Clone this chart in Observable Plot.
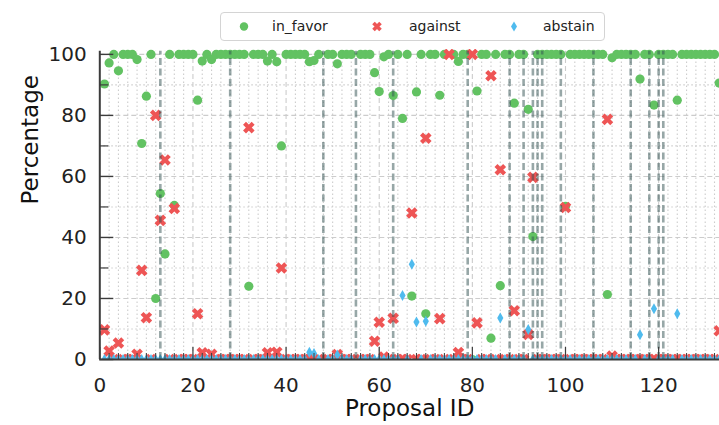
<!DOCTYPE html>
<html><head><meta charset="utf-8">
<script src="https://cdn.jsdelivr.net/npm/d3@7"></script>
<script src="https://cdn.jsdelivr.net/npm/@observablehq/plot@0.6"></script>
<style>
body{margin:0;background:#fff;font-family:"DejaVu Sans",sans-serif;}
#wrap{position:relative;width:719px;height:425px;overflow:hidden;}
#legend{position:absolute;left:220px;top:12px;width:385px;height:29px;border:1px solid #d4d4d4;border-radius:4px;background:#fff;box-sizing:border-box;font-size:14px;color:#222;}
#legend .item{position:absolute;top:0;height:27px;line-height:27px;white-space:nowrap;}
#legend svg{position:absolute;top:0;}
</style></head><body><div id="wrap"><div id="chart"></div><div id="legend"></div></div>
<script>
// Proposal IDs
const proposalIds = [
  1,2,3,4,5,6,7,8,9,10,11,12,13,14,15,16,17,18,19,20,
  21,22,23,24,25,26,27,28,29,30,31,32,33,34,35,36,37,38,39,40,
  41,42,43,44,45,46,47,48,49,50,51,52,53,54,55,56,57,58,59,60,
  61,62,63,64,65,66,67,68,69,70,71,72,73,74,75,76,77,78,79,80,
  81,82,83,84,85,86,87,88,89,90,91,92,93,94,95,96,97,98,99,100,
  101,102,103,104,105,106,107,108,109,110,111,112,113,114,115,116,117,118,119,120,
  121,122,123,124,125,126,127,128,129,130,131,132,133
];
// Percentage of votes per proposal
const inFavor = [
  90.3,97.2,100,94.6,100,100,100,98.3,70.8,86.3,
  100,20,54.4,34.6,100,50.5,100,100,100,100,
  85,97.8,100,98.3,100,100,100,100,100,100,
  100,24,100,100,100,97.8,100,97.6,70,100,
  100,100,100,100,97.6,98,100,null,100,100,
  96.9,100,100,100,null,100,100,100,94,87.8,
  99.2,100,86.5,100,79,100,20.8,87.7,100,15,
  100,100,86.6,100,0,100,97.7,100,100,0,
  88,100,100,7,100,24.2,100,100,84,100,
  100,82,40.3,100,100,100,100,100,100,50.2,
  100,100,100,100,100,100,100,100,21.3,98.9,
  100,100,100,100,100,91.9,100,100,83.4,100,
  100,100,100,85,100,100,100,100,100,100,
  100,100,90.6
];
const against = [
  9.7,2.8,0,5.4,0,0,0,1.7,29.2,13.7,
  0,80,45.6,65.4,0,49.5,0,0,0,0,
  15,2.2,0,1.7,0,0,0,0,0,0,
  0,76,0,0,0,2.2,0,2.4,30,0,
  0,0,0,0,0,0,0,null,0,0,
  1.6,0,0,0,null,0,0,0,6,12.2,
  0.8,0,13.5,0,0,0,48,0,0,72.5,
  0,0,13.4,0,100,0,2.3,0,0,100,
  12,0,0,93,0,62.2,0,0,16,0,
  0,8.2,59.7,0,0,0,0,0,0,49.8,
  0,0,0,0,0,0,0,0,78.7,1.1,
  0,0,0,0,0,0,0,0,0,0,
  0,0,0,0,0,0,0,0,0,0,
  0,0,9.4
];
const abstain = [
  0,0,0,0,0,0,0,0,0,0,
  0,0,0,0,0,0,0,0,0,0,
  0,0,0,0,0,0,0,0,0,0,
  0,0,0,0,0,0,0,0,0,0,
  0,0,0,0,2.4,2,0,null,0,0,
  1.5,0,0,0,null,0,0,0,0,0,
  0,0,0,0,21,0,31.2,12.3,0,12.5,
  0,0,0,0,0,0,0,0,0,0,
  0,0,0,0,0,13.6,0,0,0,0,
  0,9.8,0,0,0,0,0,0,0,0,
  0,0,0,0,0,0,0,0,0,0,
  0,0,0,0,0,8.1,0,0,16.6,0,
  0,0,0,15,0,0,0,0,0,0,
  0,0,0
];
// Proposals marked with dashed vertical lines
const failedIds = [13,28,48,55,63,79,88,91,93,94,95,99,106,114,118,120,121];
// Axis ticks
const xTicks = [0,20,40,60,80,100,120];
const yTicks = [0,20,40,60,80,100];
const xMinorTicks = [2,4,6,8,10,12,14,16,18,22,24,26,28,30,32,34,36,38,42,44,46,48,50,52,54,56,58,62,64,66,68,70,72,74,76,78,82,84,86,88,90,92,94,96,98,102,104,106,108,110,112,114,116,118,122,124,126,128,130,132];
const yMinorTicks = [10,30,50,70,90];
const seriesNames = ["in_favor","against","abstain"];

const GREEN = "#62c262", RED = "#ee5555", BLUE = "#4fbbee";
const X_MAX = 133.07, Y_MAX = 101.6, Y_TOP = 101;

const rows = proposalIds.map((id, i) => ({id, inFavor: inFavor[i], against: against[i], abstain: abstain[i]}));

const thinDiamond = {
  draw(ctx, size) {
    const r = Math.sqrt(size / Math.PI);
    ctx.moveTo(0, -r * 1.25);
    ctx.lineTo(r * 0.7, 0);
    ctx.lineTo(0, r * 1.25);
    ctx.lineTo(-r * 0.7, 0);
    ctx.closePath();
  }
};

const frameW = 719 - 99.3, frameH = 425 - 49 - 66;
const gridC = "#cccccc", axisC = "#3c3c3c";

const chart = Plot.plot({
  width: 719, height: 425,
  marginLeft: 99.3, marginRight: 0, marginTop: 49, marginBottom: 66,
  x: {domain: [0, X_MAX]},
  y: {domain: [0, Y_MAX]},
  style: {fontFamily: "'DejaVu Sans', sans-serif", color: "#222", background: "white", overflow: "hidden"},
  marks: [
    Plot.ruleY(yMinorTicks, {y: d => d, x1: 0, x2: X_MAX, stroke: gridC, strokeWidth: 1.1, strokeDasharray: "1.5,2.5"}),
    Plot.ruleY(yTicks.filter(d => d > 0), {y: d => d, x1: 0, x2: X_MAX, stroke: gridC, strokeWidth: 1.1, strokeDasharray: "5,3"}),
    Plot.ruleX(xMinorTicks, {x: d => d, y1: 0, y2: Y_TOP, stroke: gridC, strokeWidth: 1.1, strokeDasharray: "1.5,2.5"}),
    Plot.ruleX(xTicks.filter(d => d > 0), {x: d => d, y1: 0, y2: Y_TOP, stroke: gridC, strokeWidth: 1.1, strokeDasharray: "5,3"}),
    Plot.dot(rows, {x: "id", y: "inFavor", r: 4.6, fill: GREEN, stroke: "none", clip: true}),
    Plot.dot(rows, {x: "id", y: "against", r: 4, symbol: "times", stroke: RED, strokeWidth: 4.2, clip: true}),
    Plot.dot(rows, {x: "id", y: "abstain", r: 4.4, symbol: thinDiamond, fill: BLUE, stroke: "none", clip: true}),
    Plot.ruleX(failedIds, {x: d => d, y1: 0, y2: Y_TOP, stroke: "#2f4f4f", strokeOpacity: 0.5, strokeWidth: 2.6, strokeDasharray: "7,3.5"}),
    // inward ticks
    Plot.tickX(xMinorTicks, {x: d => d, insetTop: frameH - 6, stroke: axisC, strokeWidth: 1}),
    Plot.tickX(xTicks, {x: d => d, insetTop: frameH - 12, stroke: axisC, strokeWidth: 1.2}),
    Plot.tickY(yMinorTicks, {y: d => d, insetRight: frameW - 9, stroke: axisC, strokeWidth: 1.2}),
    Plot.tickY(yTicks, {y: d => d, insetRight: frameW - 14, stroke: axisC, strokeWidth: 1.4}),
    // spines
    Plot.ruleX([0], {x: d => d, y1: 0, y2: Y_TOP, stroke: axisC, strokeWidth: 2}),
    Plot.ruleY([0], {y: d => d, x1: 0, x2: X_MAX, stroke: axisC, strokeWidth: 2}),
    Plot.axisX(xTicks, {tickSize: 0, tickPadding: 18, fontSize: 20, label: null}),
    Plot.axisY(yTicks, {tickSize: 0, tickPadding: 13, fontSize: 20, label: null}),
    Plot.text(["Proposal ID"], {frameAnchor: "bottom", dy: 56, fontSize: 23, fill: "#111"}),
    Plot.text(["Percentage"], {frameAnchor: "left", dx: -69, rotate: -90, fontSize: 23, fill: "#111"})
  ]
});
document.getElementById("chart").appendChild(chart);

// legend
const legend = document.getElementById("legend");
const symbolsSvg = [
  `<svg width="14" height="27"><circle cx="7" cy="13.5" r="4.2" fill="${GREEN}"/></svg>`,
  `<svg width="14" height="27"><path d="M3.5,10L10.5,17M10.5,10L3.5,17" stroke="${RED}" stroke-width="3.6"/></svg>`,
  `<svg width="14" height="27"><path d="M7,8.5L10,13.5L7,18.5L4,13.5Z" fill="${BLUE}"/></svg>`
];
const symX = [16, 149, 286], txtX = [51, 188, 322];
seriesNames.forEach((name, i) => {
  const s = document.createElement("div");
  s.className = "item"; s.style.left = symX[i] + "px"; s.innerHTML = symbolsSvg[i];
  legend.appendChild(s);
  const t = document.createElement("div");
  t.className = "item"; t.style.left = txtX[i] + "px"; t.textContent = name;
  legend.appendChild(t);
});
</script>
</body></html>
